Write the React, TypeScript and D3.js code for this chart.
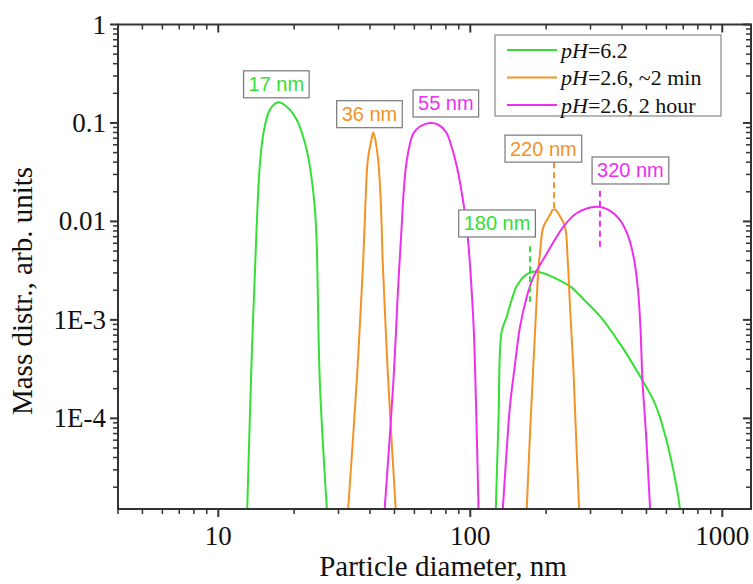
import React from 'react';
import * as d3 from 'd3';

// series: diameter (nm) / mass distribution
const greenSmallD = [13.0, 13.6, 14.2, 14.6, 15.1, 16.0, 17.3, 18.7, 20.5, 22.1, 23.1, 24.2, 24.6, 25.3, 27.1];
const greenSmallV = [1e-5, 4.9e-4, 0.0088, 0.036, 0.078, 0.135, 0.162, 0.146, 0.107, 0.062, 0.036, 0.013, 0.0055, 2.3e-4, 1e-5];

const orangeSmallD = [32.6, 35.4, 37.6, 38.5, 39.2, 40.5, 41.2, 42.0, 43.1, 44.0, 44.5, 44.9, 47.3, 50.8];
const orangeSmallV = [1e-5, 2.3e-4, 0.004, 0.019, 0.042, 0.067, 0.08, 0.067, 0.042, 0.019, 0.0088, 0.004, 2.3e-4, 1e-5];

const magentaSmallD = [45.5, 49.5, 51.8, 53.4, 54.3, 56.0, 59.4, 63.1, 69.0, 74.4, 80.1, 84.6, 89.4, 93.5, 96.8, 102.8, 105.3, 108];
const magentaSmallV = [1e-5, 2.3e-4, 0.0023, 0.0088, 0.0185, 0.042, 0.078, 0.092, 0.1, 0.0965, 0.081, 0.0557, 0.0318, 0.0165, 0.0088, 0.001, 1.5e-4, 1e-5];

const greenLargeD = [126, 129.4, 133.2, 139.5, 146, 152.8, 167.4, 180.6, 201, 227, 248.7, 289.7, 327, 393, 471, 541, 592, 659, 686];
const greenLargeV = [1e-5, 9.6e-5, 7.6e-4, 0.00108, 0.0016, 0.0022, 0.0029, 0.0031, 0.0029, 0.0025, 0.0022, 0.0015, 0.00109, 5.7e-4, 2.69e-4, 1.4e-4, 6.9e-5, 2e-5, 1e-5];

const orangeLargeD = [167, 172.6, 177.8, 183.4, 186.2, 189, 195, 207, 211.5, 215.4, 219.4, 225.5, 237.6, 243.5, 248.7, 256.3, 262.7, 271];
const orangeLargeV = [1e-5, 7e-5, 3.3e-4, 0.0016, 0.0032, 0.0047, 0.0088, 0.0116, 0.0129, 0.0133, 0.0129, 0.0116, 0.0088, 0.0041, 0.00136, 3.3e-4, 7e-5, 1e-5];

const magentaLargeD = [134, 139.5, 143.8, 150.4, 157.5, 167.4, 177.8, 201, 234, 264, 317, 358, 393, 423, 446, 463, 474, 482, 498, 519];
const magentaLargeV = [1e-5, 4.8e-5, 1.36e-4, 3.5e-4, 8.5e-4, 0.0017, 0.0027, 0.0047, 0.0088, 0.0121, 0.0141, 0.0129, 0.0103, 0.0071, 0.0042, 0.002, 7.9e-4, 2.45e-4, 7e-5, 1e-5];

const xMajor = [10, 100, 1000];
const xLabels = ['10', '100', '1000'];
const yMajor = [1, 0.1, 0.01, 1e-3, 1e-4];
const yLabels = ['1', '0.1', '0.01', '1E-3', '1E-4'];

const legendNames = ['=6.2', '=2.6, ~2 min', '=2.6, 2 hour'];

// peak annotations: text, box anchor (diameter, value at box bottom), optional dashed marker
const annText = ['17 nm', '36 nm', '55 nm', '180 nm', '220 nm', '320 nm'];
const annD = [17, 39.8, 80, 127.7, 195, 432];
const annV = [0.18, 0.0895, 0.115, 0.00695, 0.04, 0.024];
const annColor = [0, 1, 2, 0, 1, 2];
const dashD = [null, null, null, 172.6, 215, 327];
const dashTop = [null, null, null, 0.0056, 0.04, 0.0205];
const dashBottom = [null, null, null, 0.00152, 0.0137, 0.0055];

const COLORS = ['#33e033', '#f39325', '#ee30ee'];
const SERIF = '"Liberation Serif", "Times New Roman", serif';
const SANS = '"Liberation Sans", Arial, sans-serif';

const W = 753;
const H = 584;
const margin = { top: 24.5, right: 2, bottom: 75, left: 118 };
const iw = W - margin.left - margin.right;
const ih = H - margin.top - margin.bottom;

// rough Liberation Sans advance widths
const sansWidth = (s: string, size: number) => {
  let w = 0;
  for (const c of s) w += c === ' ' ? 0.278 : c === 'm' ? 0.833 : 0.556;
  return w * size;
};

export default function App() {
  const x = d3.scaleLog().domain([4, 1300]).range([0, iw]);
  const y = d3.scaleLog().domain([1.2e-5, 1]).range([ih, 0]);

  const line = d3.line<[number, number]>()
    .x(d => x(d[0]))
    .y(d => y(d[1]))
    .curve(d3.curveCatmullRom.alpha(0.5));

  const series = [
    { d: greenSmallD, v: greenSmallV, c: 0 },
    { d: orangeSmallD, v: orangeSmallV, c: 1 },
    { d: magentaSmallD, v: magentaSmallV, c: 2 },
    { d: greenLargeD, v: greenLargeV, c: 0 },
    { d: orangeLargeD, v: orangeLargeV, c: 1 },
    { d: magentaLargeD, v: magentaLargeV, c: 2 },
  ];

  const xMinor = x.ticks().filter(t => !xMajor.includes(t));
  const yMinor = y.ticks().filter(t => !yMajor.some(m => Math.abs(m - t) / m < 1e-6));

  const axisColor = '#333';
  const majorLen = 8;
  const minorLen = 5;

  return (
    <svg width={W} height={H} style={{ position: 'absolute', left: 0, top: 0 }}>
      <rect width={W} height={H} fill="#fff" />
      <defs>
        <clipPath id="plot-clip">
          <rect x={0} y={0} width={iw} height={ih} />
        </clipPath>
      </defs>
      <g transform={`translate(${margin.left},${margin.top})`}>
        {/* curves */}
        <g clipPath="url(#plot-clip)">
          {series.map((s, i) => (
            <path
              key={i}
              d={line(s.d.map((dv, j) => [dv, s.v[j]] as [number, number])) || ''}
              fill="none"
              stroke={COLORS[s.c]}
              strokeWidth={2}
            />
          ))}
        </g>

        {/* dashed peak markers */}
        {dashD.map((dd, i) => dd == null ? null : (
          <line
            key={`dash-${i}`}
            x1={x(dd)} x2={x(dd)}
            y1={y(dashTop[i] as number)} y2={y(dashBottom[i] as number)}
            stroke={COLORS[annColor[i]]}
            strokeWidth={2}
            strokeDasharray="6,4"
          />
        ))}

        {/* annotation boxes */}
        {annText.map((t, i) => {
          const bw = sansWidth(t, 20) + 10;
          const bh = 27;
          const cx = x(annD[i]);
          const by = y(annV[i]);
          return (
            <g key={`ann-${i}`}>
              <rect x={cx - bw / 2} y={by - bh} width={bw} height={bh} fill="#fff" stroke="#777" strokeWidth={1.2} />
              <text x={cx} y={by - 6.5} textAnchor="middle" fontFamily={SANS} fontSize={20} fill={COLORS[annColor[i]]}>{t}</text>
            </g>
          );
        })}

        {/* frame */}
        <rect x={0} y={0} width={iw} height={ih} fill="none" stroke={axisColor} strokeWidth={2} />

        {/* x ticks: bottom outward, top inward */}
        {xMajor.map((t, i) => (
          <g key={`xM-${i}`}>
            <line x1={x(t)} x2={x(t)} y1={ih} y2={ih + majorLen} stroke={axisColor} strokeWidth={2} />
            <line x1={x(t)} x2={x(t)} y1={0} y2={majorLen} stroke={axisColor} strokeWidth={2} />
            <text x={x(t)} y={ih + 36} textAnchor="middle" fontFamily={SERIF} fontSize={27} fill="#111">{xLabels[i]}</text>
          </g>
        ))}
        {xMinor.map((t, i) => (
          <g key={`xm-${i}`}>
            <line x1={x(t)} x2={x(t)} y1={ih} y2={ih + minorLen} stroke={axisColor} strokeWidth={1.5} />
            <line x1={x(t)} x2={x(t)} y1={0} y2={minorLen} stroke={axisColor} strokeWidth={1.5} />
          </g>
        ))}

        {/* y ticks: left outward, right inward */}
        {yMajor.map((t, i) => (
          <g key={`yM-${i}`}>
            <line x1={-majorLen} x2={0} y1={y(t)} y2={y(t)} stroke={axisColor} strokeWidth={2} />
            <line x1={iw - majorLen} x2={iw} y1={y(t)} y2={y(t)} stroke={axisColor} strokeWidth={2} />
            <text x={-12} y={y(t) + 9} textAnchor="end" fontFamily={SERIF} fontSize={27} fill="#111">{yLabels[i]}</text>
          </g>
        ))}
        {yMinor.map((t, i) => (
          <g key={`ym-${i}`}>
            <line x1={-minorLen} x2={0} y1={y(t)} y2={y(t)} stroke={axisColor} strokeWidth={1.5} />
            <line x1={iw - minorLen} x2={iw} y1={y(t)} y2={y(t)} stroke={axisColor} strokeWidth={1.5} />
          </g>
        ))}

        {/* legend */}
        <g transform={`translate(${495 - margin.left},${35 - margin.top})`}>
          <rect x={0} y={0} width={226} height={81} fill="#fff" stroke="#888" strokeWidth={1.2} />
          {legendNames.map((n, i) => (
            <g key={`lg-${i}`} transform={`translate(0,${15 + i * 27.5})`}>
              <line x1={12} x2={62} y1={0} y2={0} stroke={COLORS[i]} strokeWidth={2} />
              <text x={66} y={7.5} fontFamily={SERIF} fontSize={22} fill="#111">
                <tspan fontStyle="italic">pH</tspan>{n}
              </text>
            </g>
          ))}
        </g>
      </g>

      {/* axis titles */}
      <text x={443} y={576} textAnchor="middle" fontFamily={SERIF} fontSize={29} fill="#111">Particle diameter, nm</text>
      <text transform="translate(32,291) rotate(-90)" textAnchor="middle" fontFamily={SERIF} fontSize={29} fill="#111">Mass distr., arb. units</text>
    </svg>
  );
}
